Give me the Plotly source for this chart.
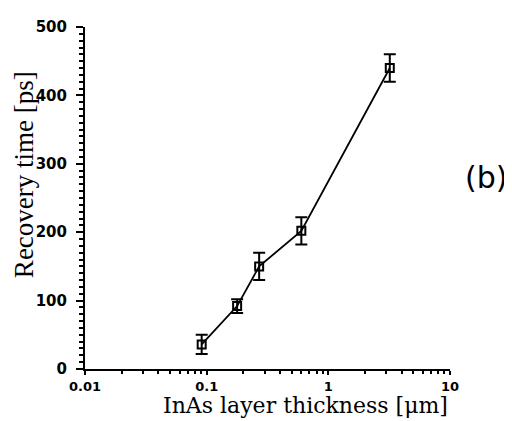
import plotly.graph_objects as go

thickness_um = [0.091, 0.178, 0.27, 0.6, 3.2]
recovery_ps = [36, 92, 150, 202, 440]
error_ps = [14, 10, 20, 20, 20]

x_major_ticks = [0.01, 0.1, 1, 10]
x_major_labels = ["0.01", "0.1", "1", "10"]
y_major_ticks = [0, 100, 200, 300, 400, 500]

x_minor_ticks = [m * 10 ** d for d in (-2, -1, 0) for m in range(2, 10)]

fig = go.Figure()
fig.add_trace(go.Scatter(
    x=thickness_um, y=recovery_ps,
    mode="lines+markers",
    line=dict(color="black", width=1.8),
    marker=dict(symbol="square-open", size=8, color="black", line=dict(width=2)),
    error_y=dict(type="data", array=error_ps, visible=True, color="black",
                 thickness=2, width=6),
    showlegend=False,
))

fig.update_xaxes(
    type="log", range=[-2, 1],
    tickvals=x_major_ticks, ticktext=x_major_labels,
    ticks="outside", ticklen=4, tickwidth=2, tickcolor="black",
    minor=dict(tickvals=x_minor_ticks, ticks="outside", ticklen=3,
               tickwidth=1.5, tickcolor="black", showgrid=False),
    showline=True, linecolor="black", linewidth=2,
    showgrid=False, zeroline=False,
    tickfont=dict(family="DejaVu Sans", size=13, color="black", weight="bold"),
    ticklabelstandoff=0,
)
fig.update_yaxes(
    range=[0, 500],
    tickvals=y_major_ticks,
    ticks="outside", ticklen=7, tickwidth=2, tickcolor="black",
    minor=dict(dtick=10, ticks="outside", ticklen=4, tickwidth=1.5,
               tickcolor="black", showgrid=False),
    showline=True, linecolor="black", linewidth=2,
    showgrid=False, zeroline=False,
    tickfont=dict(family="DejaVu Sans", size=15, color="black", weight="bold"),
    ticklabelstandoff=6,
)

fig.add_annotation(text="Recovery time [ps]", xref="paper", yref="paper",
                   x=-0.167, y=0.567, textangle=-90, showarrow=False,
                   xanchor="center", yanchor="middle",
                   font=dict(family="Liberation Serif", size=27, color="black"))
fig.add_annotation(text="InAs layer thickness [μm]", xref="paper", yref="paper",
                   x=0.605, y=-0.1467, showarrow=False,
                   xanchor="center", yanchor="bottom", borderpad=0,
                   font=dict(family="DejaVu Serif", size=22, color="black"))
fig.add_annotation(text="(b)", xref="paper", yref="paper",
                   x=1.099, y=0.561, showarrow=False,
                   xanchor="center", yanchor="middle",
                   font=dict(family="DejaVu Sans", size=30, color="black"))

# page body has an 8px margin, so the figure is sized to fit the window
fig.update_layout(
    width=504, height=413,
    margin=dict(l=77, r=62, t=10, b=52),
    paper_bgcolor="white", plot_bgcolor="white",
)

fig.write_html("out.html")
